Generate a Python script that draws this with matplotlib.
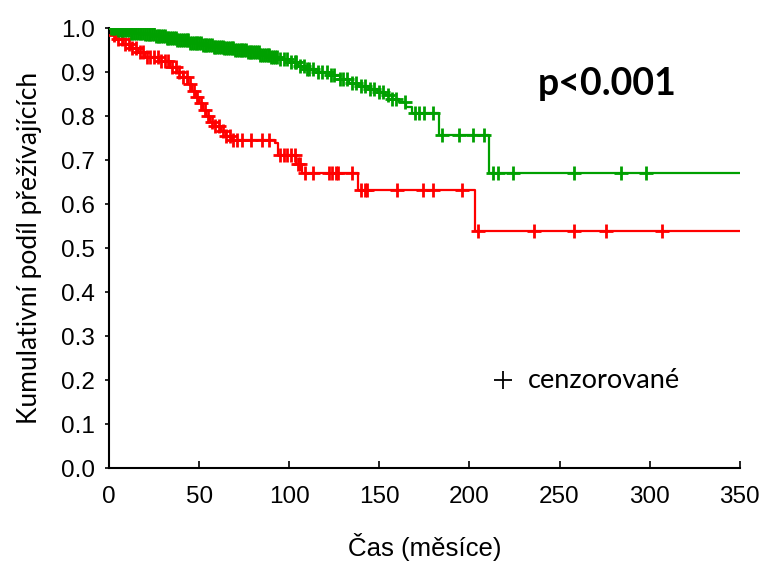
"""
Kaplan-Meier style survival curves for two groups with censored marks.
Output: out.png
"""

import matplotlib
matplotlib.use("Agg")
import matplotlib.pyplot as plt
import numpy as np

# ---------------------------------------------------------------------------
# Data
# ---------------------------------------------------------------------------
green_times = [0, 5, 12, 20, 26, 32, 38, 45, 52, 58, 64, 70, 77, 84, 90, 95,
               100, 105, 110, 116, 122, 128, 133, 138, 144, 149, 153, 157,
               161, 165, 168, 183, 211, 350]
green_surv = [1.0, 0.995, 0.99, 0.987, 0.982, 0.977, 0.972, 0.967, 0.962,
              0.958, 0.955, 0.951, 0.946, 0.940, 0.935, 0.930, 0.922, 0.914,
              0.908, 0.900, 0.893, 0.884, 0.876, 0.869, 0.862, 0.855, 0.847,
              0.840, 0.831, 0.820, 0.806, 0.756, 0.670, 0.670]
green_censored = [1, 2, 3, 4, 5, 6, 7, 8, 9, 10, 11, 12, 13, 14, 15, 16, 17,
                  18, 19, 20, 21, 22, 23, 24, 25, 26, 27, 28, 29, 30, 31, 32,
                  33, 34, 35, 36, 37, 38, 39, 40, 41, 42, 43, 44, 45, 46, 47,
                  48, 49, 50, 51, 52, 53, 54, 55, 56, 57, 58, 59, 60, 61, 62,
                  63, 64, 65, 66, 67, 68, 69, 70, 71, 72, 73, 74, 75, 76, 77,
                  78, 79, 80, 81, 82, 83, 84, 85, 86, 87, 88, 89, 90, 91, 92,
                  93, 95, 97, 99, 101, 103, 104, 106, 108, 110, 111, 113, 116,
                  118, 121, 123, 125, 128, 130, 132, 135, 137, 140, 142, 145,
                  147, 150, 152, 155, 157, 159, 164, 170, 172, 175, 180, 185,
                  194, 202, 208, 213, 216, 224, 258, 284, 298]

red_times = [0, 2, 4, 8, 12, 16, 20, 28, 34, 38, 41, 44, 46, 48, 50, 52, 54,
             56, 59, 62, 65, 68, 92, 94, 104, 107, 138, 203, 350]
red_surv = [1.0, 0.985, 0.975, 0.965, 0.955, 0.945, 0.935, 0.925, 0.912,
            0.900, 0.888, 0.872, 0.858, 0.843, 0.830, 0.815, 0.800, 0.787,
            0.777, 0.766, 0.755, 0.745, 0.738, 0.711, 0.692, 0.670, 0.631,
            0.540, 0.540]
red_censored = [1, 3, 5, 7, 9, 11, 13, 15, 17, 19, 21, 23, 25, 27, 29, 31, 33,
                35, 37, 39, 41, 43, 45, 47, 49, 51, 53, 55, 57, 59, 61, 63, 65,
                67, 69, 71, 74, 79, 85, 89, 95, 97, 99, 101, 103, 105, 106,
                109, 113, 122, 124, 126, 127, 135, 140, 142, 143, 160, 174,
                180, 196, 205, 236, 258, 276, 307]

x_ticks = [0, 50, 100, 150, 200, 250, 300, 350]
y_ticks = [0.0, 0.1, 0.2, 0.3, 0.4, 0.5, 0.6, 0.7, 0.8, 0.9, 1.0]

GREEN = "#00a000"
RED = "#ff0000"

TICK_FONT = ["Liberation Sans Narrow", "Liberation Sans", "DejaVu Sans"]
TEXT_FONT = ["Lato", "Open Sans", "DejaVu Sans"]


def censor_y(times, surv, cens):
    """Survival value of the step curve at each censoring time."""
    idx = np.searchsorted(times, cens, side="right") - 1
    return np.asarray(surv)[idx]


fig = plt.figure(figsize=(7.65, 5.62), dpi=100)
ax = fig.add_axes([0.1425, 0.167, 0.8245, 0.783])

for times, surv, cens, color in [
    (red_times, red_surv, red_censored, RED),
    (green_times, green_surv, green_censored, GREEN),
]:
    ax.step(times, surv, where="post", color=color, linewidth=1.6, zorder=3)
    ax.plot(cens, censor_y(times, surv, cens), linestyle="none", marker="+",
            markersize=10.5, markeredgewidth=2.0, color=color, zorder=3)

ax.set_xlim(0, 350)
ax.set_ylim(0, 1.0)
ax.set_xticks(x_ticks)
ax.set_yticks(y_ticks)
ax.set_xticklabels([str(t) for t in x_ticks], family=TICK_FONT, fontsize=17.5)
ax.set_yticklabels([f"{t:.1f}" for t in y_ticks], family=TICK_FONT,
                   fontsize=17.5)
ax.tick_params(axis="x", direction="in", length=5, width=1.2, pad=13)
ax.tick_params(axis="y", direction="out", length=3, width=1.2, pad=7)

for side in ["top", "right"]:
    ax.spines[side].set_visible(False)
for side in ["left", "bottom"]:
    ax.spines[side].set_linewidth(1.5)

ax.set_xlabel("Čas (měsíce)", family=TICK_FONT, fontsize=18.5)
ax.xaxis.set_label_coords(0.50, -0.147)
ax.set_ylabel("Kumulativní podíl přežívajících", family=TEXT_FONT,
              fontsize=19)
ax.yaxis.set_label_coords(-0.106, 0.5)

ax.text(0.680, 0.873, "p<0.001", transform=ax.transAxes, family=TEXT_FONT,
        fontsize=27, fontweight="bold", ha="left", va="center")

# legend entry for censored observations
ax.plot([0.624], [0.2], transform=ax.transAxes, linestyle="none", marker="+",
        markersize=13, markeredgewidth=1.3, color="black", clip_on=False)
ax.text(0.664, 0.2, "cenzorované", transform=ax.transAxes, family=TEXT_FONT,
        fontsize=19.5, ha="left", va="center")

fig.savefig("out.png", dpi=100)
